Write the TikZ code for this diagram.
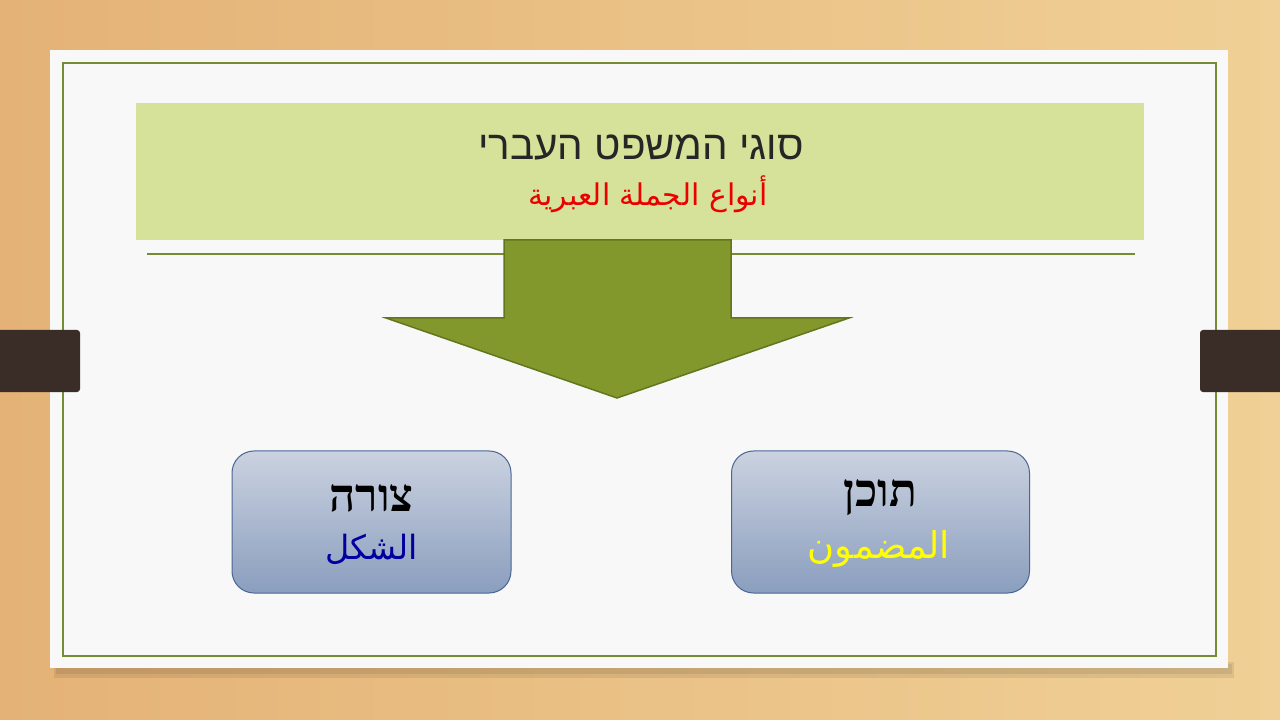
\documentclass[tikz,border=0pt]{standalone}
\usepackage{fontspec}
\setmainfont{Liberation Sans}
\newfontfamily\hebfont[Script=Hebrew]{Liberation Sans}
\newfontfamily\hebbold[Script=Hebrew]{Liberation Serif}
\newfontfamily\arabicfont[Script=Arabic]{DejaVu Sans}
\TeXXeTstate=1
\definecolor{woodlight}{RGB}{240,208,150}
\definecolor{wooddark}{RGB}{228,178,118}
\definecolor{paper}{RGB}{248,248,248}
\definecolor{framegreen}{RGB}{118,140,52}
\definecolor{tabbrown}{RGB}{58,45,40}
\definecolor{titlefill}{RGB}{214,226,153}
\definecolor{arrowfill}{RGB}{130,152,44}
\definecolor{arrowedge}{RGB}{98,118,30}
\definecolor{boxtop}{RGB}{203,210,224}
\definecolor{boxbottom}{RGB}{138,158,190}
\definecolor{boxedge}{RGB}{72,102,150}
\definecolor{titletext}{RGB}{38,38,38}
\definecolor{arabred}{RGB}{235,0,0}
\definecolor{arabblue}{RGB}{0,0,160}
\definecolor{arabyellow}{RGB}{255,255,0}
\begin{document}
\begin{tikzpicture}[x=0.2mm, y=-0.2mm]
        \tikzstyle{every node}=[inner sep=0pt, outer sep=0pt]
        \tikzstyle{catbox}=[rounded corners=4.4mm, draw=boxedge, line width=0.2mm, top color=boxtop, bottom color=boxbottom, minimum height=28.4mm]
        \useasboundingbox (0,0) rectangle (1280,720);
        \shade[left color=wooddark, right color=woodlight] (0,0) rectangle (1280,720);
        \fill[black, opacity=0.08] (54,662) rectangle (1234,678);
        \fill[black, opacity=0.08] (56,664) rectangle (1232,674);
        \fill[paper] (50,50) rectangle (1228,668);
        \draw[framegreen, line width=0.45mm] (63,63) rectangle (1216,656);
        \fill[tabbrown, rounded corners=0.6mm] (-10,330) rectangle (80,392);
        \fill[tabbrown, rounded corners=0.6mm] (1200,330) rectangle (1290,392);

        \node[fill=titlefill, minimum width=201.6mm, minimum height=27.4mm] (title) at (640,171.5) {};
        \node[text=titletext, font=\hebfont\fontsize{23}{28}\selectfont] (titleHe) at (641,148) {\beginR סוגי המשפט העברי\endR};
        \node[text=arabred, font=\arabicfont\fontsize{17}{22}\selectfont] (titleAr) at (648,194) {\beginR أنواع الجملة العبرية\endR};

        \coordinate (lineL) at (147,254);
        \coordinate (lineR) at (1135,254);
        \draw[framegreen, line width=0.45mm] (lineL) -- (lineR);

        \coordinate (tip) at (617,398);
        \filldraw[fill=arrowfill, draw=arrowedge, line width=0.3mm] (504,240) -- (731,240) -- (731,318) -- (849,318) -- (tip) -- (386,318) -- (504,318) -- cycle;

        \node[catbox, minimum width=55.8mm] (form) at (371.5,522) {};
        \node[catbox, minimum width=59.6mm] (content) at (880.5,522) {};

        \node[font=\hebbold\bfseries\fontsize{26}{30}\selectfont] (formHe) at (371.5,498) {\beginR צורה\endR};
        \node[text=arabblue, font=\arabicfont\fontsize{19}{24}\selectfont] (formAr) at (371.5,549) {\beginR الشكل\endR};
        \node[font=\hebbold\bfseries\fontsize{26}{30}\selectfont] (contentHe) at (880.5,498) {\beginR תוכן\endR};
        \node[text=arabyellow, font=\arabicfont\fontsize{21}{26}\selectfont] (contentAr) at (879,549) {\beginR المضمون\endR};
    \end{tikzpicture}
\end{document}
